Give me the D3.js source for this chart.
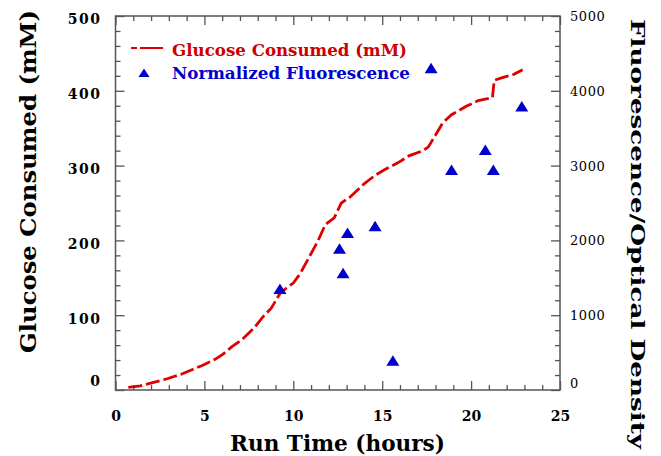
<!DOCTYPE html>
<html>
<head>
<meta charset="utf-8">
<script src="https://cdn.jsdelivr.net/npm/d3@7/dist/d3.min.js"></script>
<style>
  html, body { margin: 0; padding: 0; background: #fff; }
  svg { display: block; }
</style>
</head>
<body>
<svg id="chart" width="661" height="456"></svg>
<script>
// ---- data ----
const glucoseTime = [0.72, 1.4, 2.2, 2.9, 3.7, 4.3, 4.85, 5.6, 6.05, 6.55, 7.1, 7.8, 8.3, 8.75, 9.25, 9.6, 10.0, 10.4, 10.9, 11.4, 11.8, 12.3, 12.7, 13.2, 14.0, 14.6, 15.1, 15.9, 16.5, 17.3, 17.6, 18.0, 18.4, 18.9, 19.7, 20.4, 21.2, 21.3, 21.8, 22.4, 22.9];
const glucoseValue = [3.5, 5.5, 10.5, 15, 21, 27, 32.5, 41, 48, 58, 67, 83, 98, 109, 129, 136, 143, 156, 178, 200, 221, 230, 250, 258, 276, 287, 294, 304, 313, 320, 325, 341, 357, 368, 379, 387, 391, 414, 418, 422, 428];
const fluorTime = [9.25, 12.6, 12.8, 13.05, 14.6, 15.6, 17.75, 18.9, 20.8, 21.25, 22.85];
const fluorValue = [1350, 1890, 1560, 2100, 2190, 390, 4300, 2940, 3210, 2940, 3790];
const xTicks = [0, 5, 10, 15, 20, 25];
const yLeftTicks = [0, 100, 200, 300, 400, 500];
const yRightTicks = [0, 1000, 2000, 3000, 4000, 5000];
const legendLabels = ["Glucose Consumed (mM)", "Normalized Fluorescence"];
const xTitle = "Run Time (hours)";
const yLeftTitle = "Glucose Consumed (mM)";
const yRightTitle = "Fluorescence/Optical Density";

// ---- layout ----
const L = 115.5, R = 560, T = 16, B = 390;
const RED = "#dd0000", RED_TXT = "#cc0000", BLUE = "#0000cc", AX = "#555";
const FONT = "'DejaVu Serif', 'Liberation Serif', serif";

const svg = d3.select("#chart");
const x = d3.scaleLinear().domain([0, 25]).range([L, R]);
const yL = d3.scaleLinear().domain([0, 500]).range([B, T]);
const yR = d3.scaleLinear().domain([0, 5000]).range([B, T]);

// minor ticks
const xMinor = d3.range(0, 26, 1).filter(v => v % 5 !== 0);
const yMinor = d3.range(0, 501, 20).filter(v => v % 100 !== 0);

function styleAxis(g) {
  g.select(".domain").remove();
  g.selectAll(".tick line").attr("stroke", AX).attr("stroke-width", 1.3);
}

// bottom
svg.append("g").attr("transform", `translate(0,${B})`)
  .call(d3.axisBottom(x).tickValues(xMinor).tickSize(-5).tickFormat(""))
  .call(styleAxis);
const gxb = svg.append("g").attr("transform", `translate(0,${B})`)
  .call(d3.axisBottom(x).tickValues(xTicks).tickSize(-9).tickFormat(d3.format("d")))
  .call(styleAxis);
gxb.selectAll(".tick text")
  .attr("y", 26).attr("dy", "0.35em")
  .attr("font-family", FONT).attr("font-weight", "bold").attr("font-size", 14)
  .attr("fill", "#000");

// top
svg.append("g").attr("transform", `translate(0,${T})`)
  .call(d3.axisTop(x).tickValues(xMinor).tickSize(-5).tickFormat(""))
  .call(styleAxis);
svg.append("g").attr("transform", `translate(0,${T})`)
  .call(d3.axisTop(x).tickValues(xTicks).tickSize(-9).tickFormat(""))
  .call(styleAxis);

// left
svg.append("g").attr("transform", `translate(${L},0)`)
  .call(d3.axisLeft(yL).tickValues(yMinor).tickSize(-5).tickFormat(""))
  .call(styleAxis);
const gyl = svg.append("g").attr("transform", `translate(${L},0)`)
  .call(d3.axisLeft(yL).tickValues(yLeftTicks).tickSize(-9).tickFormat(d3.format("d")))
  .call(styleAxis);
gyl.selectAll(".tick text")
  .attr("x", -14).attr("dy", "0.35em")
  .attr("y", d => d === 0 ? -9 : 3)
  .attr("font-family", FONT).attr("font-weight", "bold").attr("font-size", 14)
  .attr("letter-spacing", 1.5)
  .attr("fill", "#000");

// right
svg.append("g").attr("transform", `translate(${R},0)`)
  .call(d3.axisRight(yR).tickValues(yMinor.map(v => v * 10)).tickSize(-5).tickFormat(""))
  .call(styleAxis);
const gyr = svg.append("g").attr("transform", `translate(${R},0)`)
  .call(d3.axisRight(yR).tickValues(yRightTicks).tickSize(-9).tickFormat(d3.format("d")))
  .call(styleAxis);
gyr.selectAll(".tick text")
  .attr("x", 10).attr("dy", "0.35em")
  .attr("y", d => d === 0 ? -7 : 0)
  .attr("font-family", FONT).attr("font-size", 13)
  .attr("letter-spacing", 0.6)
  .attr("fill", "#000");

// frame
svg.append("rect").attr("x", L).attr("y", T).attr("width", R - L).attr("height", B - T)
  .attr("fill", "none").attr("stroke", AX).attr("stroke-width", 1.5);

// glucose line
const glucose = glucoseTime.map((t, i) => [t, glucoseValue[i]]);
svg.append("path")
  .datum(glucose)
  .attr("d", d3.line().x(d => x(d[0])).y(d => yL(d[1])))
  .attr("fill", "none").attr("stroke", RED).attr("stroke-width", 2.8)
  .attr("stroke-dasharray", "14,4");

// fluorescence triangles
const tri = "M0,-5.5L6.5,5L-6.5,5Z";
const fluor = fluorTime.map((t, i) => [t, fluorValue[i]]);
svg.append("g").selectAll("path").data(fluor).join("path")
  .attr("transform", d => `translate(${x(d[0])},${yR(d[1])})`)
  .attr("d", tri).attr("fill", BLUE);

// legend
svg.append("line").attr("x1", 131).attr("x2", 163).attr("y1", 48).attr("y2", 48)
  .attr("stroke", RED).attr("stroke-width", 2.2).attr("stroke-dasharray", "6,3,23");
svg.append("path").attr("transform", "translate(144,73)").attr("d", "M0,-4.5L5.5,4L-5.5,4Z").attr("fill", BLUE);
svg.append("text").attr("x", 172).attr("y", 50).attr("dy", "0.35em")
  .attr("font-family", FONT).attr("font-weight", "bold").attr("font-size", 16)
  .attr("textLength", 235).attr("lengthAdjust", "spacingAndGlyphs")
  .attr("fill", RED_TXT).text(legendLabels[0]);
svg.append("text").attr("x", 172).attr("y", 73).attr("dy", "0.35em")
  .attr("font-family", FONT).attr("font-weight", "bold").attr("font-size", 16)
  .attr("textLength", 238).attr("lengthAdjust", "spacingAndGlyphs")
  .attr("fill", BLUE).text(legendLabels[1]);

// axis titles
svg.append("text").attr("x", 337.5).attr("y", 443).attr("dy", "0.35em")
  .attr("text-anchor", "middle")
  .attr("font-family", FONT).attr("font-weight", "bold").attr("font-size", 22)
  .attr("textLength", 215).attr("lengthAdjust", "spacingAndGlyphs")
  .attr("fill", "#000").text(xTitle);
svg.append("text").attr("transform", "translate(28,181.5) rotate(-90)")
  .attr("dy", "0.35em").attr("text-anchor", "middle")
  .attr("font-family", FONT).attr("font-weight", "bold").attr("font-size", 22)
  .attr("textLength", 343).attr("lengthAdjust", "spacingAndGlyphs")
  .attr("fill", "#000").text(yLeftTitle);
svg.append("text").attr("transform", "translate(638,234) rotate(90)")
  .attr("dy", "0.35em").attr("text-anchor", "middle")
  .attr("font-family", FONT).attr("font-weight", "bold").attr("font-size", 19)
  .attr("textLength", 430).attr("lengthAdjust", "spacingAndGlyphs")
  .attr("fill", "#000").text(yRightTitle);
</script>
</body>
</html>
